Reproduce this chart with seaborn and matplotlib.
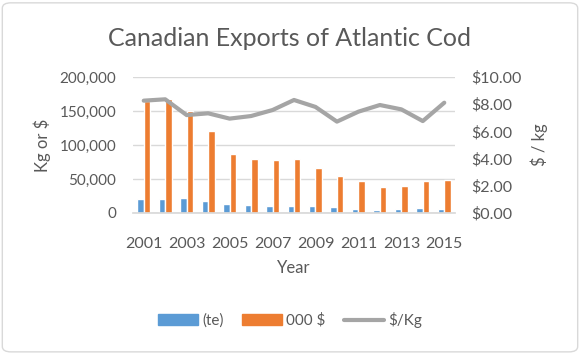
import numpy as np
import pandas as pd
import matplotlib
matplotlib.use("Agg")
import matplotlib.pyplot as plt
import seaborn as sns
from matplotlib.patches import Patch, FancyBboxPatch
from matplotlib.lines import Line2D
from matplotlib.ticker import FuncFormatter

years = [str(y) for y in range(2001, 2016)]
tonnes = [20000, 20000, 21500, 17200, 12700, 11200, 11000, 10000, 9800, 8800, 6400, 5000, 5400, 6800, 6000]
value_k = [164000, 168000, 150000, 121000, 87000, 79000, 78000, 79000, 65700, 54400, 47000, 38700, 39700, 47000, 48500]
price = [8.26, 8.36, 7.20, 7.33, 6.94, 7.13, 7.57, 8.31, 7.80, 6.72, 7.45, 7.94, 7.62, 6.76, 8.11]
series_names = ["(te)", "000 $", "$/Kg"]

BLUE, ORANGE, GRAY = "#5B9BD5", "#ED7D31", "#A5A5A5"
TXT = "#595959"

sns.set_theme(style="white")
plt.rcParams["font.family"] = ["Lato", "DejaVu Sans"]

df = pd.DataFrame({
    "Year": years * 2,
    "Series": [series_names[0]] * len(years) + [series_names[1]] * len(years),
    "Value": tonnes + value_k,
})

fig = plt.figure(figsize=(5.8, 3.54), dpi=100)
ax = fig.add_axes([133 / 580, 1 - 213 / 354, (455 - 133) / 580, (213 - 77) / 354])

sns.barplot(data=df, x="Year", y="Value", hue="Series", palette=[BLUE, ORANGE],
            width=0.6, gap=0, ax=ax, legend=False, saturation=1, errorbar=None)
ax.set_ylim(0, 200000)
ax.set_yticks(np.arange(0, 200001, 50000))
ax.yaxis.set_major_formatter(FuncFormatter(lambda v, p: f"{int(v):,}"))
ax.grid(axis="y", color="#D9D9D9", lw=1)
ax.set_axisbelow(True)
for s in ["top", "left", "right"]:
    ax.spines[s].set_visible(False)
ax.spines["bottom"].set_color("#D9D9D9")
ax.set_xticks(range(0, len(years), 2))
ax.set_xticklabels(years[::2])
ax.tick_params(axis="both", length=0, labelsize=11, colors=TXT)
ax.tick_params(axis="y", pad=12)
ax.tick_params(axis="x", pad=17, labelsize=11.5)
ax.set_xlabel("Year", fontsize=12, color=TXT, labelpad=7)
ax.set_ylabel("")

ax2 = ax.twinx()
sns.lineplot(x=np.arange(len(years)), y=price, ax=ax2, color=GRAY, lw=3.0)
ax2.set_ylim(0, 10)
ax2.set_yticks(np.arange(0, 10.01, 2))
ax2.yaxis.set_major_formatter(FuncFormatter(lambda v, p: f"${v:.2f}"))
ax2.tick_params(axis="y", length=0, labelsize=11.5, colors=TXT, pad=12)
for s in ax2.spines.values():
    s.set_visible(False)
ax.set_xlim(-0.5, len(years) - 0.5)

fig.text(0.5, 1 - 38 / 354, "Canadian Exports of Atlantic Cod", ha="center", va="center",
         fontsize=18, color=TXT)
fig.text(42 / 580, 1 - 145 / 354, "Kg or $", rotation=90, ha="center", va="center",
         fontsize=12, color=TXT)
fig.text(539 / 580, 1 - 145 / 354, "$ / kg", rotation=90, ha="center", va="center",
         fontsize=12, color=TXT)

handles = [Patch(color=BLUE), Patch(color=ORANGE), Line2D([], [], color=GRAY, lw=3)]
fig.legend(handles, series_names, loc="center", bbox_to_anchor=(0.5, 1 - 320 / 354),
           ncol=3, frameon=False, fontsize=11, labelcolor=TXT, handlelength=2.6,
           handleheight=0.7, columnspacing=1.2, handletextpad=0.3)

fig.patches.append(FancyBboxPatch((0.004, 0.006), 0.992, 0.986, boxstyle="round,pad=0,rounding_size=0.015",
                                  transform=fig.transFigure, fill=False, ec="#D9D9D9", lw=1))

fig.savefig("out.png", dpi=100)
